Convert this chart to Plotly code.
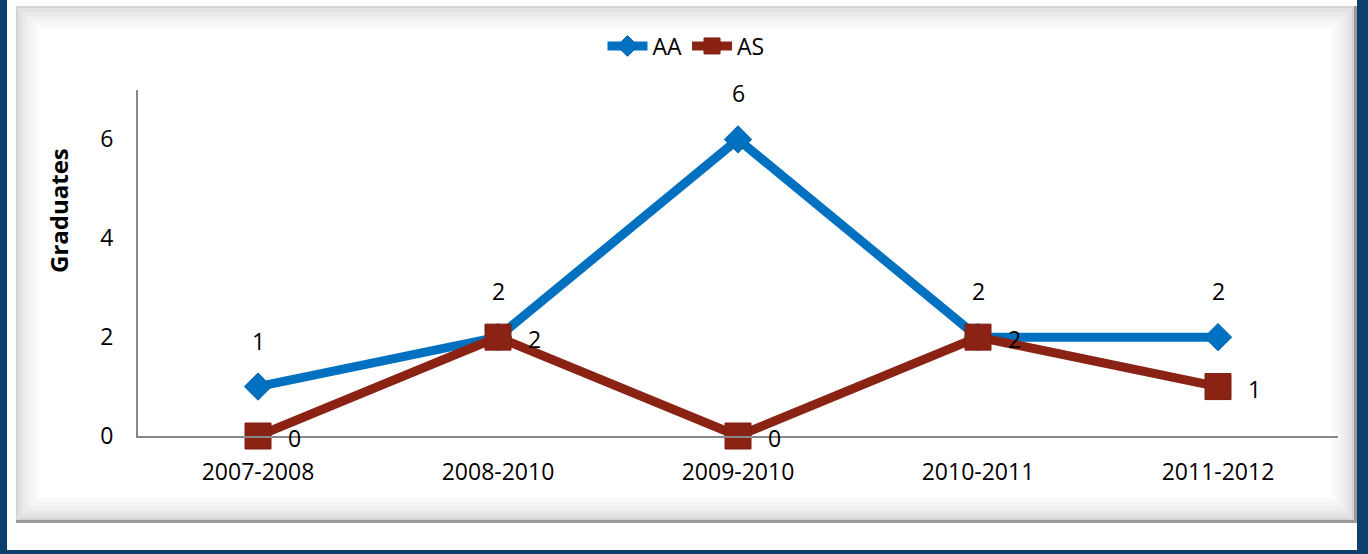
import plotly.graph_objects as go

### 데이터
years = ['2007-2008', '2008-2010', '2009-2010', '2010-2011', '2011-2012']
aa = [1, 2, 6, 2, 2]
as_ = [0, 2, 0, 2, 1]
y_ticks = [0, 2, 4, 6]

W, H = 1368, 554
L, R, T, B = 138, 30, 90, 118   # plot area: x 138..1338, y 90..436
pw, ph = W - L - R, H - T - B

def px(x):  # 픽셀 -> paper x
    return (x - L) / pw

def py(y):  # 픽셀 -> paper y
    return (H - B - y) / ph

blue = '#0070C0'
red = '#8B2314'
frame = '#0D3F6C'
font = 'Open Sans'
fs = 23

fig = go.Figure()
fig.add_trace(go.Scatter(x=years, y=aa, name='AA', mode='lines+markers', cliponaxis=False,
                         line=dict(color=blue, width=9),
                         marker=dict(symbol='diamond', size=21, color=blue,
                                     line=dict(color='#0062A8', width=1))))
fig.add_trace(go.Scatter(x=years, y=as_, name='AS', mode='lines+markers', cliponaxis=False,
                         line=dict(color=red, width=9),
                         marker=dict(symbol='square', size=26, color=red,
                                     line=dict(color='#7A1E10', width=1))))

# 데이터 라벨
for x, v in zip(years, aa):
    fig.add_annotation(x=x, y=v, text=str(v), showarrow=False, yshift=46,
                       font=dict(size=fs, color='black', family=font))
for x, v in zip(years, as_):
    fig.add_annotation(x=x, y=v, text=str(v), showarrow=False, xshift=36, yshift=-2,
                       font=dict(size=fs, color='black', family=font))

# y축 제목
fig.add_annotation(xref='paper', yref='paper', x=px(58), y=py(211), xanchor='center', yanchor='middle',
                   text='<b>Graduates</b>', textangle=-90, showarrow=False,
                   font=dict(size=24, color='black', family=font))

# 배경 프레임 (패널 + 베벨)
shapes = []
shapes.append(dict(type='rect', xref='paper', yref='paper', x0=px(16), x1=px(1357), y0=py(6), y1=py(523),
                   fillcolor='#9a9a9a', line=dict(width=0), layer='below'))
shapes.append(dict(type='rect', xref='paper', yref='paper', x0=px(16), x1=px(1354), y0=py(6), y1=py(520),
                   fillcolor='#d4d4d4', line=dict(width=0), layer='below'))
bevel = ['#e2e2e2', '#eaeaea', '#f0f0f0', '#f5f5f5', '#fafafa', '#ffffff']
for i, c in enumerate(bevel):
    d = 2 + i * 4
    shapes.append(dict(type='rect', xref='paper', yref='paper',
                       x0=px(16 + d), x1=px(1354 - d), y0=py(6 + d), y1=py(520 - d),
                       fillcolor=c, line=dict(width=0), layer='below'))
# 파란 테두리
shapes.append(dict(type='rect', xref='paper', yref='paper', x0=px(0), x1=px(7), y0=py(0), y1=py(H),
                   fillcolor=frame, line=dict(width=0), layer='below'))
shapes.append(dict(type='rect', xref='paper', yref='paper', x0=px(1357), x1=px(W), y0=py(0), y1=py(H),
                   fillcolor=frame, line=dict(width=0), layer='below'))
shapes.append(dict(type='rect', xref='paper', yref='paper', x0=px(0), x1=px(W), y0=py(550), y1=py(H),
                   fillcolor=frame, line=dict(width=0), layer='below'))

fig.update_layout(
    width=W, height=H,
    margin=dict(l=L, r=R, t=T, b=B),
    paper_bgcolor='white', plot_bgcolor='rgba(0,0,0,0)',
    font=dict(family=font, size=fs, color='black'),
    showlegend=True,
    legend=dict(orientation='h', x=px(686), xanchor='center', y=py(46), yanchor='middle',
                font=dict(size=fs), bgcolor='rgba(0,0,0,0)', itemwidth=40),
    shapes=shapes,
    xaxis=dict(range=[-0.5, 4.5], showgrid=False, showline=True, linecolor='#888888', linewidth=2,
               ticks='', tickfont=dict(size=fs), ticklabelstandoff=14, zeroline=False),
    yaxis=dict(range=[0, 7], tickvals=y_ticks, showgrid=False, showline=True, linecolor='#888888',
               linewidth=2, ticks='', tickfont=dict(size=fs), ticklabelstandoff=18, zeroline=False),
)

# 페이지 기본 여백 제거
fig.write_html('out.html', config={'displayModeBar': False},
               post_script="document.body.style.margin='0';")
